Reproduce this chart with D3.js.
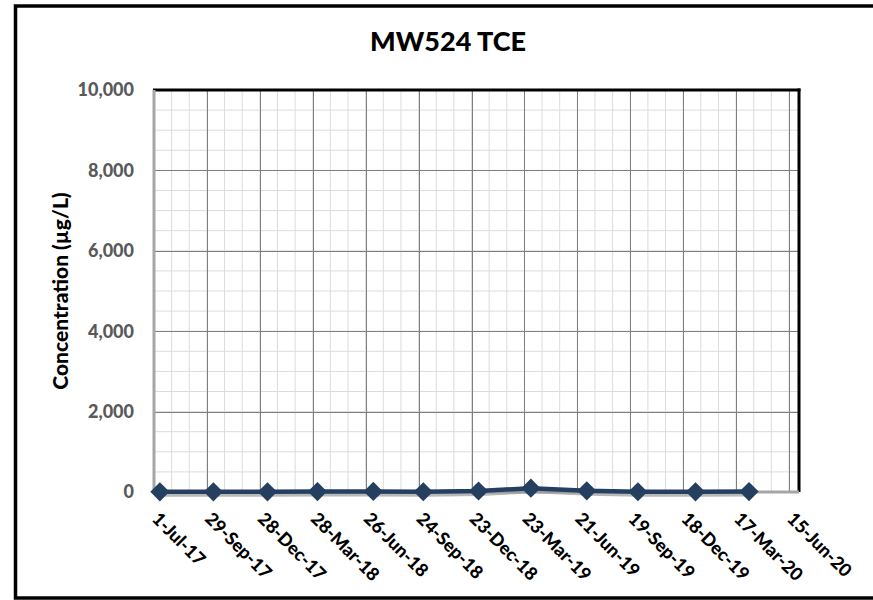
<!DOCTYPE html>
<html><head><meta charset="utf-8">
<script src="https://cdn.jsdelivr.net/npm/d3@7"></script>
<style>
html,body{margin:0;padding:0;background:#fff;}
svg{display:block;font-family:Lato, "Open Sans", sans-serif;}
</style></head>
<body>
<svg id="chart" width="873" height="600"></svg>
<script>
const title = "MW524 TCE";
const yTitle = "Concentration (µg/L)";
const sampleDates = ["2017-07-11","2017-10-10","2018-01-10","2018-04-05","2018-07-09","2018-10-02","2019-01-04","2019-04-03","2019-07-07","2019-10-02","2020-01-08","2020-04-08"];
const tceValues = [5, 4, 5, 10, 15, 6, 25, 95, 30, 6, 4, 10];
const xTickLabels = ["1-Jul-17","29-Sep-17","28-Dec-17","28-Mar-18","26-Jun-18","24-Sep-18","23-Dec-18","23-Mar-19","21-Jun-19","19-Sep-19","18-Dec-19","17-Mar-20","15-Jun-20"];
const yTicks = [0, 2000, 4000, 6000, 8000, 10000];

const svg = d3.select("#chart");
const L = 154, R = 799, T = 90, B = 492;
const DAY = 86400000;
const start = Date.UTC(2017, 6, 1);
const x = d3.scaleUtc().domain([new Date(start), new Date(start + 1097 * DAY)]).range([L, R]);
const y = d3.scaleLinear().domain([0, 10000]).range([B, T]);

// outer frame
svg.append("rect").attr("x", 15.5).attr("y", 6).attr("width", 900).attr("height", 592)
  .attr("fill", "#fff").attr("stroke", "#000").attr("stroke-width", 3.5);

// minor gridlines
const minorX = d3.range(0, 1097, 30).map(d => new Date(start + d * DAY));
svg.append("g").selectAll("line").data(minorX).join("line")
  .attr("x1", d => x(d)).attr("x2", d => x(d)).attr("y1", T).attr("y2", B)
  .attr("stroke", "#dcdcdc").attr("stroke-width", 1);
svg.append("g").selectAll("line").data(d3.range(0, 10001, 500)).join("line")
  .attr("x1", L).attr("x2", R).attr("y1", d => y(d)).attr("y2", d => y(d))
  .attr("stroke", "#dcdcdc").attr("stroke-width", 1);

// major gridlines
const majorX = xTickLabels.map((t, i) => new Date(start + i * 90 * DAY));
svg.append("g").selectAll("line").data(majorX).join("line")
  .attr("x1", d => Math.round(x(d)) + 0.5).attr("x2", d => Math.round(x(d)) + 0.5).attr("y1", T).attr("y2", B)
  .attr("stroke", "#7f7f7f").attr("stroke-width", 1);
svg.append("g").selectAll("line").data(yTicks).join("line")
  .attr("x1", L).attr("x2", R).attr("y1", d => Math.round(y(d)) + 0.5).attr("y2", d => Math.round(y(d)) + 0.5)
  .attr("stroke", "#7f7f7f").attr("stroke-width", 1);

// plot borders
svg.append("line").attr("x1", L - 1).attr("x2", R + 1.5).attr("y1", T).attr("y2", T).attr("stroke", "#000").attr("stroke-width", 3);
svg.append("line").attr("x1", R).attr("x2", R).attr("y1", T - 1.5).attr("y2", B).attr("stroke", "#000").attr("stroke-width", 3);
svg.append("line").attr("x1", L).attr("x2", L).attr("y1", T).attr("y2", B + 1).attr("stroke", "#a6a6a6").attr("stroke-width", 3);
svg.append("line").attr("x1", L).attr("x2", R).attr("y1", B).attr("y2", B).attr("stroke", "#a6a6a6").attr("stroke-width", 3);

// y axis labels
svg.append("g").selectAll("text").data(yTicks).join("text")
  .attr("x", 134).attr("y", d => y(d)).attr("dy", "0.35em")
  .attr("text-anchor", "end").attr("font-size", 18).attr("font-weight", 900).attr("fill", "#595959")
  .text(d => d3.format(",")(d));

// x axis labels
svg.append("g").selectAll("text").data(majorX).join("text")
  .attr("transform", (d, i) => `translate(${x(d) - 3},${520}) rotate(45)`)
  .attr("text-anchor", "start").attr("font-size", 18).attr("font-weight", 900).attr("fill", "#000")
  .text((d, i) => xTickLabels[i]);

// titles
svg.append("text").attr("x", 448).attr("y", 51).attr("text-anchor", "middle")
  .attr("font-size", 27).attr("font-weight", 900).attr("fill", "#000").text(title);
svg.append("text").attr("transform", `translate(68,${(T + B) / 2}) rotate(-90)`).attr("text-anchor", "middle")
  .attr("font-size", 21).attr("font-weight", 900).attr("fill", "#000").text(yTitle);

// data
const data = sampleDates.map((s, i) => ({ d: new Date(s + "T00:00:00Z"), v: tceValues[i] }));
const line = d3.line().x(p => x(p.d)).y(p => y(p.v));
svg.append("path").datum(data).attr("d", line).attr("fill", "none")
  .attr("stroke", "#9a9a9a").attr("stroke-opacity", 0.7).attr("stroke-width", 4)
  .attr("transform", "translate(2,3)");
svg.append("path").datum(data).attr("d", line).attr("fill", "none")
  .attr("stroke", "#243F60").attr("stroke-width", 4.5).attr("stroke-linejoin", "round");
const sym = d3.symbol().type(d3.symbolDiamond2).size(235);
svg.append("g").selectAll("path").data(data).join("path")
  .attr("transform", p => `translate(${x(p.d)},${y(p.v)})`)
  .attr("d", sym).attr("fill", "#243F60");
</script>
</body></html>
